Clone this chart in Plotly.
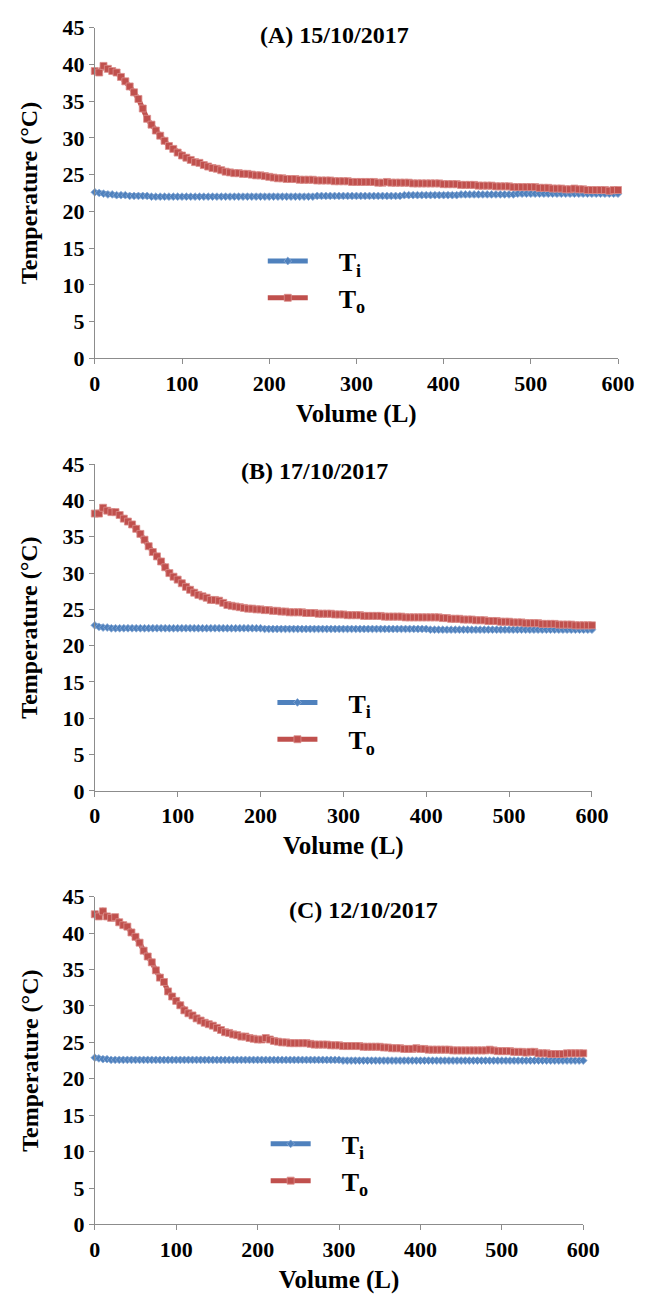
import plotly.graph_objects as go

# ---------------- data ----------------
volume = list(range(0, 601, 5))  # L

ti_A = [22.6, 22.5, 22.4, 22.3, 22.3, 22.2, 22.2, 22.2, 22.1, 22.1,
        22.1, 22.1, 22.1, 22.0, 22.0, 22.0, 22.0, 22.0, 22.0, 22.0,
        22.0, 22.0, 22.0, 22.0, 22.0, 22.0, 22.0, 22.0, 22.0, 22.0,
        22.0, 22.0, 22.0, 22.0, 22.0, 22.0, 22.0, 22.0, 22.0, 22.0,
        22.0, 22.0, 22.0, 22.0, 22.0, 22.0, 22.0, 22.0, 22.0, 22.0,
        22.0, 22.1, 22.1, 22.1, 22.1, 22.1, 22.1, 22.1, 22.1, 22.1,
        22.1, 22.1, 22.1, 22.1, 22.1, 22.1, 22.1, 22.1, 22.1, 22.1,
        22.1, 22.2, 22.2, 22.2, 22.2, 22.2, 22.2, 22.2, 22.2, 22.2,
        22.2, 22.2, 22.2, 22.2, 22.3, 22.3, 22.3, 22.3, 22.3, 22.3,
        22.3, 22.3, 22.3, 22.3, 22.3, 22.3, 22.3, 22.4, 22.4, 22.4,
        22.4, 22.4, 22.4, 22.4, 22.4, 22.4, 22.4, 22.4, 22.4, 22.4,
        22.4, 22.4, 22.4, 22.4, 22.4, 22.4, 22.4, 22.4, 22.4, 22.4,
        22.4]
to_A = [39.1, 38.9, 39.8, 39.4, 39.1, 38.9, 38.3, 37.7, 37.0, 36.2,
        35.3, 34.0, 32.6, 31.8, 31.0, 30.3, 29.6, 28.9, 28.5, 28.0,
        27.6, 27.3, 27.0, 26.7, 26.6, 26.3, 26.1, 25.9, 25.8, 25.6,
        25.4, 25.3, 25.2, 25.2, 25.1, 25.1, 25.0, 24.9, 24.9, 24.8,
        24.7, 24.6, 24.5, 24.5, 24.4, 24.4, 24.4, 24.3, 24.3, 24.3,
        24.3, 24.2, 24.2, 24.2, 24.2, 24.1, 24.1, 24.1, 24.1, 24.0,
        24.0, 24.0, 24.0, 24.0, 24.0, 23.9, 23.9, 24.0, 23.9, 23.9,
        23.9, 23.9, 23.9, 23.8, 23.8, 23.8, 23.8, 23.8, 23.8, 23.8,
        23.7, 23.7, 23.7, 23.7, 23.6, 23.6, 23.6, 23.6, 23.5, 23.5,
        23.5, 23.5, 23.4, 23.4, 23.4, 23.4, 23.3, 23.3, 23.3, 23.3,
        23.3, 23.3, 23.2, 23.2, 23.2, 23.1, 23.1, 23.1, 23.0, 23.0,
        23.1, 23.0, 23.0, 22.9, 22.9, 22.9, 22.9, 22.9, 22.8, 22.9,
        22.9]

ti_B = [22.8, 22.6, 22.5, 22.5, 22.4, 22.4, 22.4, 22.4, 22.4, 22.4,
        22.4, 22.4, 22.4, 22.4, 22.4, 22.4, 22.4, 22.4, 22.4, 22.4,
        22.4, 22.4, 22.4, 22.4, 22.4, 22.4, 22.4, 22.4, 22.4, 22.4,
        22.4, 22.4, 22.4, 22.4, 22.4, 22.4, 22.4, 22.4, 22.4, 22.4,
        22.4, 22.3, 22.3, 22.3, 22.3, 22.3, 22.3, 22.3, 22.3, 22.3,
        22.3, 22.3, 22.3, 22.3, 22.3, 22.3, 22.3, 22.3, 22.3, 22.3,
        22.3, 22.3, 22.3, 22.3, 22.3, 22.3, 22.3, 22.3, 22.3, 22.3,
        22.3, 22.3, 22.3, 22.3, 22.3, 22.3, 22.3, 22.3, 22.3, 22.3,
        22.3, 22.2, 22.2, 22.2, 22.2, 22.2, 22.2, 22.2, 22.2, 22.2,
        22.2, 22.2, 22.2, 22.2, 22.2, 22.2, 22.2, 22.2, 22.2, 22.2,
        22.2, 22.2, 22.2, 22.2, 22.2, 22.2, 22.2, 22.2, 22.2, 22.2,
        22.2, 22.2, 22.2, 22.2, 22.2, 22.2, 22.2, 22.2, 22.2, 22.2,
        22.2]
to_B = [38.2, 38.2, 39.0, 38.6, 38.4, 38.4, 38.0, 37.5, 37.1, 36.7,
        36.1, 35.4, 34.6, 33.7, 32.9, 32.3, 31.6, 30.8, 30.0, 29.5,
        29.1, 28.6, 28.1, 27.7, 27.3, 27.0, 26.8, 26.6, 26.3, 26.3,
        26.2, 25.9, 25.6, 25.5, 25.4, 25.3, 25.2, 25.1, 25.1, 25.0,
        25.0, 24.9, 24.9, 24.8, 24.8, 24.7, 24.7, 24.6, 24.6, 24.6,
        24.6, 24.5, 24.5, 24.5, 24.4, 24.4, 24.4, 24.4, 24.3, 24.3,
        24.3, 24.2, 24.2, 24.2, 24.2, 24.1, 24.1, 24.1, 24.1, 24.1,
        24.0, 24.0, 24.0, 24.0, 24.0, 23.9, 23.9, 23.9, 23.9, 23.9,
        23.9, 23.9, 23.9, 23.9, 23.8, 23.8, 23.7, 23.7, 23.7, 23.6,
        23.6, 23.6, 23.5, 23.5, 23.5, 23.4, 23.4, 23.4, 23.3, 23.3,
        23.3, 23.2, 23.2, 23.2, 23.1, 23.1, 23.1, 23.1, 23.0, 23.0,
        23.0, 23.0, 22.9, 22.9, 22.9, 22.9, 22.8, 22.8, 22.8, 22.8,
        22.8]

ti_C = [22.9, 22.8, 22.7, 22.7, 22.6, 22.6, 22.6, 22.6, 22.6, 22.6,
        22.6, 22.6, 22.6, 22.6, 22.6, 22.6, 22.6, 22.6, 22.6, 22.6,
        22.6, 22.6, 22.6, 22.6, 22.6, 22.6, 22.6, 22.6, 22.6, 22.6,
        22.6, 22.6, 22.6, 22.6, 22.6, 22.6, 22.6, 22.6, 22.6, 22.6,
        22.6, 22.6, 22.6, 22.6, 22.6, 22.6, 22.6, 22.6, 22.6, 22.6,
        22.6, 22.6, 22.6, 22.6, 22.6, 22.6, 22.6, 22.6, 22.6, 22.6,
        22.6, 22.5, 22.5, 22.5, 22.5, 22.5, 22.5, 22.5, 22.5, 22.5,
        22.5, 22.5, 22.5, 22.5, 22.5, 22.5, 22.5, 22.5, 22.5, 22.5,
        22.5, 22.5, 22.5, 22.5, 22.5, 22.5, 22.5, 22.5, 22.5, 22.5,
        22.5, 22.5, 22.5, 22.5, 22.5, 22.5, 22.5, 22.5, 22.5, 22.5,
        22.5, 22.5, 22.5, 22.5, 22.5, 22.5, 22.5, 22.5, 22.5, 22.5,
        22.5, 22.5, 22.5, 22.5, 22.5, 22.5, 22.5, 22.5, 22.5, 22.5,
        22.5]
to_C = [42.6, 42.3, 43.0, 42.3, 42.1, 42.2, 41.5, 41.1, 40.9, 40.1,
        39.5, 38.7, 37.6, 36.8, 36.0, 34.9, 33.9, 33.3, 32.0, 31.3,
        30.7, 30.1, 29.4, 29.0, 28.7, 28.3, 28.0, 27.7, 27.5, 27.3,
        27.0, 26.7, 26.4, 26.3, 26.1, 26.0, 25.8, 25.8, 25.6, 25.5,
        25.4, 25.4, 25.6, 25.4, 25.2, 25.1, 25.0, 25.0, 24.9, 24.9,
        24.9, 24.9, 24.9, 24.8, 24.7, 24.7, 24.7, 24.7, 24.6, 24.6,
        24.6, 24.5, 24.5, 24.5, 24.5, 24.5, 24.4, 24.4, 24.4, 24.4,
        24.4, 24.3, 24.3, 24.2, 24.2, 24.2, 24.1, 24.1, 24.1, 24.2,
        24.1, 24.1, 24.0, 24.0, 24.0, 24.0, 24.0, 24.0, 23.9, 23.9,
        23.9, 23.9, 23.9, 23.9, 23.9, 23.9, 23.9, 24.0, 23.9, 23.8,
        23.8, 23.8, 23.8, 23.7, 23.7, 23.7, 23.6, 23.7, 23.7, 23.5,
        23.5, 23.5, 23.4, 23.4, 23.4, 23.4, 23.5, 23.5, 23.5, 23.5,
        23.5]

panel_titles = ["(A) 15/10/2017", "(B) 17/10/2017", "(C) 12/10/2017"]
x_ticks = [0, 100, 200, 300, 400, 500, 600]
y_ticks = [0, 5, 10, 15, 20, 25, 30, 35, 40, 45]
x_ticktext = ["0", "100", "200", "300", "400", "500", "600"]
y_ticktext = ["0", "5", "10", "15", "20", "25", "30", "35", "40", "45"]

# ---------------- layout geometry ----------------
W, H = 663, 1310
BLUE = "#4F81BD"
RED = "#C0504D"
SERIF = "Liberation Serif"

panels = [
    # (ti, to, x_left, x_right, y_top, y_bottom, title_x, title_y, legend_x, legend_y)
    (ti_A, to_A, 92, 634, 16, 353, 340, 23, 266, 230),
    (ti_B, to_B, 92, 607, 461, 794, 320, 468, 276, 680),
    (ti_C, to_C, 92, 598, 902, 1236, 370, 915, 269, 1130),
]

fig = go.Figure()
layout = dict(
    width=W, height=H,
    margin=dict(l=0, r=0, t=0, b=0),
    paper_bgcolor="white", plot_bgcolor="white",
    font=dict(family=SERIF, color="black"),
    showlegend=True,
    annotations=[],
)

NB = "&nbsp;"
for i, (ti, to, xl, xr, yt, yb, tx, ty, lx, ly) in enumerate(panels):
    k = "" if i == 0 else str(i + 1)
    leg = "legend" if i == 0 else f"legend{i + 1}"
    fig.add_trace(go.Scatter(
        x=volume, y=ti, mode="lines+markers", name=NB * 4 + "<b>T<sub>i</sub></b>",
        line=dict(color=BLUE, width=5),
        marker=dict(symbol="diamond", size=6, color=BLUE,
                    line=dict(color="#8AABD6", width=0.8)),
        xaxis=f"x{k}", yaxis=f"y{k}", legend=leg, cliponaxis=False,
    ))
    fig.add_trace(go.Scatter(
        x=volume, y=to, mode="lines+markers", name=NB * 4 + "<b>T<sub>o</sub></b>",
        line=dict(color=RED, width=5),
        marker=dict(symbol="square", size=7, color=RED,
                    line=dict(color="#DB8E8B", width=0.8)),
        xaxis=f"x{k}", yaxis=f"y{k}", legend=leg, cliponaxis=False,
    ))
    axis_common = dict(
        showline=True, linecolor="#8C8C8C", linewidth=1,
        ticks="outside", ticklen=5, tickcolor="#8C8C8C", tickwidth=1,
        showgrid=False, zeroline=False,
        tickfont=dict(family=SERIF, size=22, color="black"),
    )
    layout[f"xaxis{k}"] = dict(
        axis_common, domain=[xl / W, xr / W], range=[0, 600],
        tickmode="array", tickvals=x_ticks,
        ticktext=[f"<b>{t}</b>" for t in x_ticktext], anchor=f"y{k}",
        title=dict(text="<b>Volume (L)</b>", standoff=9,
                   font=dict(family=SERIF, size=25, color="black")),
    )
    layout[f"yaxis{k}"] = dict(
        axis_common, domain=[1 - yb / H, 1 - yt / H], range=[0, 45],
        tickmode="array", tickvals=y_ticks,
        ticktext=[f"<b>{t}</b>" for t in y_ticktext], anchor=f"x{k}",
        title=dict(text="<b>Temperature (°C)</b>", standoff=17,
                   font=dict(family=SERIF, size=24, color="black")),
    )
    layout[leg] = dict(
        x=lx / W, y=1 - ly / H, xanchor="left", yanchor="top",
        bgcolor="rgba(0,0,0,0)", borderwidth=0,
        font=dict(family=SERIF, size=26, color="black"),
        itemwidth=40, tracegroupgap=0,
    )
    layout["annotations"].append(dict(
        text=f"<b>{panel_titles[i]}</b>", x=tx / W, y=1 - ty / H,
        xref="paper", yref="paper", xanchor="center", yanchor="middle",
        showarrow=False, font=dict(family=SERIF, size=24, color="black"),
    ))

fig.update_layout(**layout)
fig.write_html("out.html")
